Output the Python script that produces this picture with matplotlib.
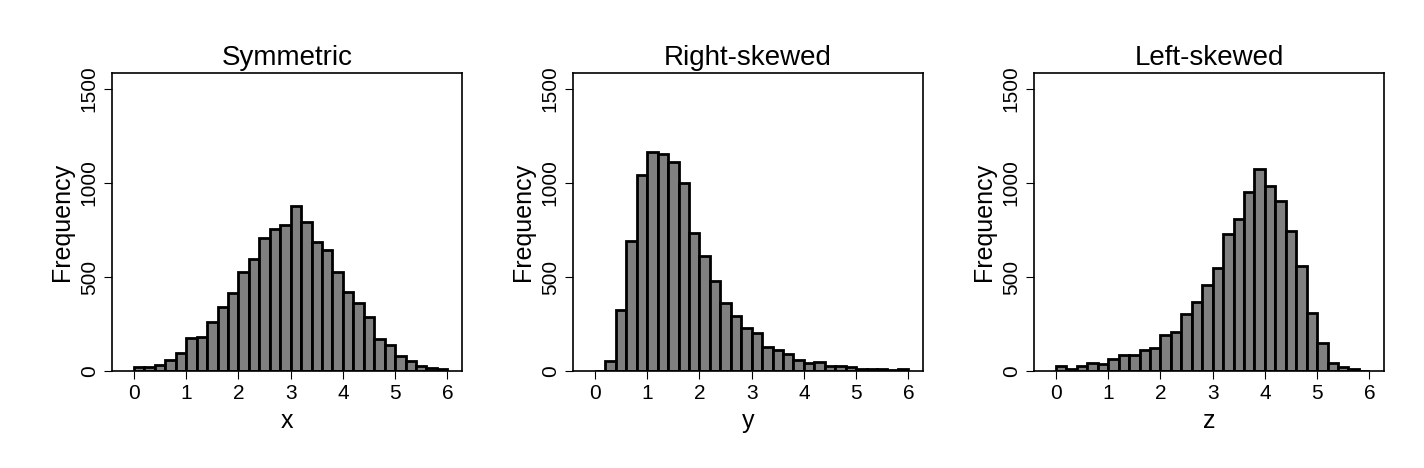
import matplotlib
matplotlib.use("Agg")
import matplotlib.pyplot as plt
import numpy as np

plt.rcParams["font.family"] = ["Liberation Sans", "DejaVu Sans"]

bin_edges = np.round(np.arange(0, 6.01, 0.2), 2)

sym_counts = [20, 20, 30, 60, 95, 175, 180, 260, 340, 415, 525, 595, 705, 755, 775,
              880, 790, 685, 645, 525, 420, 360, 285, 170, 140, 80, 55, 25, 15, 10]
right_counts = [0, 55, 325, 690, 1040, 1165, 1155, 1110, 1000, 735, 610, 480, 360, 295, 230,
                200, 125, 110, 90, 60, 45, 50, 25, 25, 20, 10, 10, 10, 5, 10]
left_counts = [25, 10, 25, 40, 35, 65, 85, 85, 110, 120, 190, 205, 305, 365, 455,
               550, 730, 810, 950, 1075, 985, 905, 745, 560, 310, 150, 40, 20, 10, 0]

titles = ["Symmetric", "Right-skewed", "Left-skewed"]
xlabels = ["x", "y", "z"]
series = [sym_counts, right_counts, left_counts]

fig = plt.figure(figsize=(14.24, 4.68), dpi=100)
lefts = [112, 573, 1034]
W, H = 1424, 468
for i, (left, counts) in enumerate(zip(lefts, series)):
    ax = fig.add_axes([left / W, 1 - 371 / H, 350 / W, 298 / H])
    ax.bar(bin_edges[:-1], counts, width=0.2, align="edge",
           color="#808080", edgecolor="black", linewidth=2)
    ax.set_xlim(-0.42, 6.28)
    ax.set_ylim(0, 1585)
    ax.set_xticks(range(7))
    ax.set_yticks([0, 500, 1000, 1500])
    ax.tick_params(axis="y", labelrotation=90, labelsize=15, length=6)
    ax.tick_params(axis="x", labelsize=15, length=6)
    for lbl in ax.get_yticklabels():
        lbl.set_va("center")
    ax.set_title(titles[i], fontsize=20)
    ax.set_xlabel(xlabels[i], fontsize=18)
    ax.set_ylabel("Frequency", fontsize=18)
    for s in ax.spines.values():
        s.set_linewidth(1.2)

fig.savefig("out.png", dpi=100)
